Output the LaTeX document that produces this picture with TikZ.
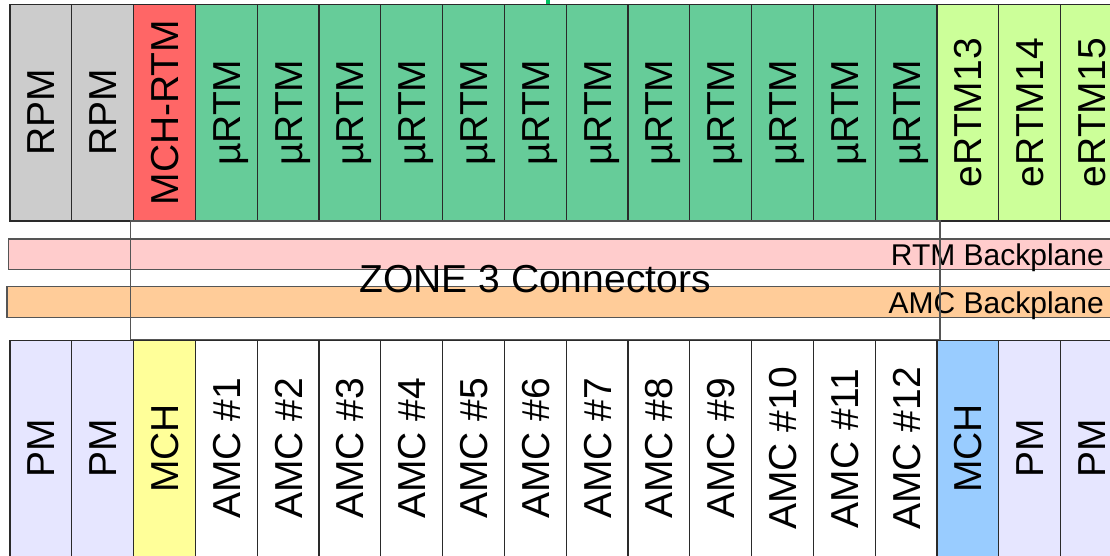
\documentclass[tikz,border=0pt]{standalone}
\usepackage{fontspec}
\setmainfont{Liberation Sans}
\definecolor{frame}{HTML}{2A2A2A}
\definecolor{zoneline}{HTML}{555555}
\definecolor{rpmgray}{HTML}{CCCCCC}
\definecolor{mchrtm}{HTML}{FF6666}
\definecolor{urtm}{HTML}{66CC99}
\definecolor{ertm}{HTML}{CCFF99}
\definecolor{pmfill}{HTML}{E6E6FF}
\definecolor{mchleft}{HTML}{FFFF99}
\definecolor{mchright}{HTML}{99CCFF}
\definecolor{rtmband}{HTML}{FFCCCC}
\definecolor{amcband}{HTML}{FFCC99}
\definecolor{marker}{HTML}{00C060}
\tikzset{
  slot/.style={draw=frame, line width=1.1pt, rotate=90, inner sep=0pt,
    minimum width=216.7pt, minimum height=61.8pt,
    font=\fontsize{39}{44}\selectfont, text height=27.9pt, text depth=0pt},
  band/.style={draw=zoneline, line width=1.1pt, inner sep=0pt},
  bandlabel/.style={inner sep=0pt, anchor=east,
    font=\fontsize{30}{34}\selectfont, text height=21.5pt, text depth=0pt},
  zonebox/.style={draw=zoneline, line width=1.1pt, inner sep=0pt,
    minimum width=809.3pt, minimum height=118.3pt},
  zonelabel/.style={inner sep=0pt,
    font=\fontsize{39}{44}\selectfont, text height=27.9pt, text depth=0pt}
}
\begin{document}
\begin{tikzpicture}[x=1pt,y=-1pt]
\useasboundingbox (0,0) rectangle (1110,555);
\clip (0,0) rectangle (1110,555);

% rear transition modules (top row)
\foreach \i/\lab/\col in {0/RPM/rpmgray, 1/RPM/rpmgray, 2/MCH-RTM/mchrtm,
    3/µRTM/urtm, 4/µRTM/urtm, 5/µRTM/urtm, 6/µRTM/urtm, 7/µRTM/urtm,
    8/µRTM/urtm, 9/µRTM/urtm, 10/µRTM/urtm, 11/µRTM/urtm, 12/µRTM/urtm,
    13/µRTM/urtm, 14/µRTM/urtm, 15/eRTM13/ertm, 16/eRTM14/ertm, 17/eRTM15/ertm}
  \node[slot, fill=\col] (t\i) at ({40.9+61.8*\i},112.65) {\lab};

% front modules (bottom row)
\foreach \i/\lab/\col in {0/PM/pmfill, 1/PM/pmfill, 2/MCH/mchleft,
    3/AMC \#1/white, 4/AMC \#2/white, 5/AMC \#3/white, 6/AMC \#4/white,
    7/AMC \#5/white, 8/AMC \#6/white, 9/AMC \#7/white, 10/AMC \#8/white,
    11/AMC \#9/white, 12/AMC \#10/white, 13/AMC \#11/white, 14/AMC \#12/white,
    15/MCH/mchright, 16/PM/pmfill, 17/PM/pmfill}
  \node[slot, fill=\col] (b\i) at ({40.9+61.8*\i},448.4) {\lab};

% backplanes
\node[band, fill=rtmband, minimum width=1106.3pt, minimum height=30.3pt]
  (rtm) at (561.85,254.15) {};
\node[bandlabel] (rtmlab) at (1104,254.4) {RTM Backplane};
\node[band, fill=amcband, minimum width=1108pt, minimum height=30.6pt]
  (amc) at (561,302) {};
\node[bandlabel] (amclab) at (1104,302.6) {AMC Backplane};

% zone 3 connector area
\node[zonebox] (zone) at (535.35,280.15) {};
\node[zonelabel] (zonelab) at (535,279) {ZONE 3 Connectors};

% small marker at the top edge
\fill[marker] (545.7,0) rectangle (550,4.3);
\end{tikzpicture}
\end{document}
